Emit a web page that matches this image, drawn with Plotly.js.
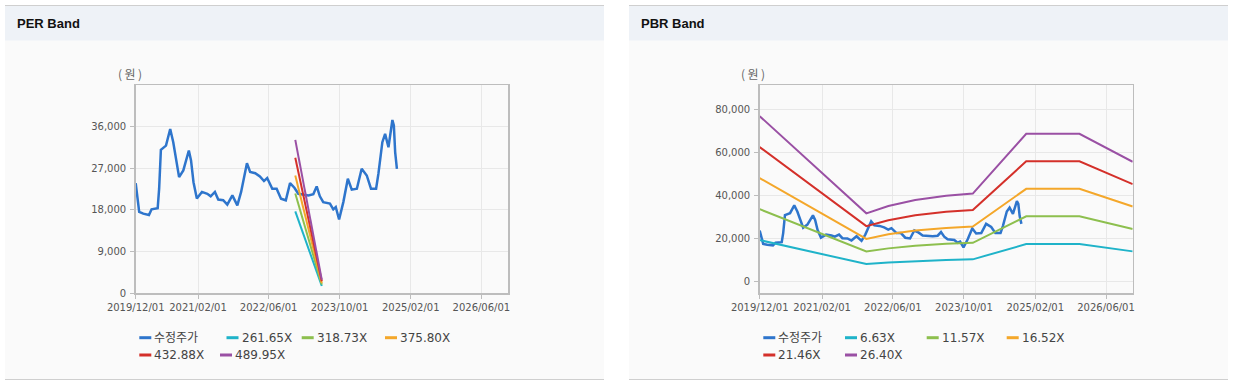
<!DOCTYPE html>
<html>
<head>
<meta charset="utf-8">
<script src="https://cdn.plot.ly/plotly-3.0.1.min.js"></script>
<style>
html,body{margin:0;padding:0;background:#fff;}
#chart{width:1245px;height:382px;}
</style>
</head>
<body>
<div id="chart"></div>
<script>
// ---------------- DATA ----------------
const tickDates = ['2019-12-01','2021-02-01','2022-06-01','2023-10-01','2025-02-01','2026-06-01'];
const tickLabels = ['2019/12/01','2021/02/01','2022/06/01','2023/10/01','2025/02/01','2026/06/01'];

const priceDates = ['2019-12-01','2019-12-25','2020-01-22','2020-03-01','2020-03-19','2020-04-30','2020-05-10','2020-05-22','2020-06-26','2020-07-25','2020-08-15','2020-09-24','2020-10-23','2020-11-30','2020-12-15','2021-01-01','2021-01-24','2021-02-28','2021-04-06','2021-04-29','2021-05-28','2021-06-20','2021-07-24','2021-08-21','2021-09-25','2021-10-29','2021-11-24','2022-01-03','2022-01-25','2022-03-01','2022-04-02','2022-04-30','2022-05-22','2022-06-10','2022-06-26','2022-07-26','2022-08-25','2022-09-27','2022-10-26','2022-11-25','2022-12-22','2023-03-01','2023-04-04','2023-04-27','2023-05-19','2023-06-11','2023-07-27','2023-08-19','2023-09-05','2023-09-28','2023-10-27','2023-11-27','2023-12-24','2024-01-28','2024-03-01','2024-04-05','2024-05-04','2024-06-08','2024-06-24','2024-07-21','2024-08-09','2024-09-01','2024-09-28','2024-10-08','2024-10-17','2024-10-29'];
const priceValues = [23800,17600,17200,16900,18150,18400,22600,31000,31900,35500,32650,25100,26550,30850,28700,24000,20500,21900,21500,20950,21900,20250,20100,19150,21150,19000,21900,28100,26200,25950,25250,24250,24900,23800,22600,22600,20450,20100,23800,22800,21500,21150,21400,23100,20950,19700,19400,18150,18650,15950,19700,24750,22400,22600,26900,25450,22600,22600,25850,32650,34450,31550,37450,36250,30500,26900];

// PER band
const perDates = ['2022-12-01','2023-06-01'];
const perLabels = ['수정주가','261.65X','318.73X','375.80X','432.88X','489.95X'];
const per1 = [17700, 1570];
const per2 = [21570, 1910];
const per3 = [25430, 2250];
const per4 = [29290, 2600];
const per5 = [33150, 2940];
const perTicks = [0, 9000, 18000, 27000, 36000];

// PBR band
const pbrDates = ['2019-12-01','2021-12-01','2022-05-01','2022-11-01','2023-06-01','2023-12-01','2024-12-01','2025-12-01','2026-12-01'];
const pbrLabels = ['수정주가','6.63X','11.57X','16.52X','21.46X','26.40X'];
const pbr1 = [19340, 8200, 8900, 9600, 10100, 10400, 17500, 17500, 14100];
const pbr2 = [33750, 14100, 15500, 16700, 17600, 18100, 30400, 30400, 24500];
const pbr3 = [48190, 19910, 22020, 23770, 25030, 25660, 43200, 43200, 34950];
const pbr4 = [62600, 25860, 28610, 30880, 32510, 33330, 56000, 56000, 45400];
const pbr5 = [77000, 31800, 35200, 38000, 40000, 41000, 68800, 68800, 55800];
const pbrTicks = [0, 20000, 40000, 60000, 80000];

// ---------------- STYLE ----------------
const colors = ['#2e75cc','#1fb3c9','#8dbf4e','#f4a72a','#d4302a','#9a50a4'];
const W = 1245, H = 382;
const px = x => x / W;
const py = y => 1 - y / H;
const tickFont = {family:'DejaVu Sans, Noto Sans CJK KR, sans-serif', size:10, color:'#555'};
const legFont = {family:'DejaVu Sans, Noto Sans CJK KR, sans-serif', size:12, color:'#444'};

function bandTraces(xa, ya, bandDates, bands, labels) {
  const t = [{x: priceDates, y: priceValues, type:'scatter', mode:'lines', name: labels[0],
    xaxis: xa, yaxis: ya, line:{color: colors[0], width:2.5}, hoverinfo:'x+y'}];
  bands.forEach((b, i) => {
    t.push({x: bandDates, y: b, type:'scatter', mode:'lines', name: labels[i+1],
      xaxis: xa, yaxis: ya, line:{color: colors[i+1], width:2}});
  });
  return t;
}

const data = [].concat(
  bandTraces('x','y', perDates, [per1,per2,per3,per4,per5], perLabels),
  bandTraces('x2','y2', pbrDates, [pbr1,pbr2,pbr3,pbr4,pbr5], pbrLabels)
);

function xAxis(d0, d1, anchor) {
  return {domain:[px(d0), px(d1)], anchor: anchor, type:'date',
    range:['2019-12-01','2026-12-01'], tickmode:'array', tickvals: tickDates, ticktext: tickLabels,
    showgrid:true, gridcolor:'#e8e8e8', gridwidth:1, showline:true, linecolor:'#bdbdbd', linewidth:1.5,
    mirror:true, ticks:'outside', ticklen:4, tickcolor:'#bdbdbd', tickfont: tickFont, zeroline:false,
    fixedrange:true};
}
function yAxis(range, ticks, anchor) {
  return {domain:[py(293.3), py(85)], anchor: anchor, range: range, tickmode:'array', tickvals: ticks,
    tickformat:',d', showgrid:true, gridcolor:'#e8e8e8', showline:true, linecolor:'#bdbdbd', linewidth:1.5,
    mirror:true, ticks:'outside', ticklen:4, tickcolor:'#bdbdbd', tickfont: tickFont, zeroline:false,
    ticklabelstandoff:2, fixedrange:true};
}

const shapes = [];
const annotations = [];
function panel(x0, x1, title, titleX) {
  shapes.push({type:'rect', xref:'paper', yref:'paper', x0:px(x0), x1:px(x1), y0:py(379), y1:py(5),
    fillcolor:'#fafafa', line:{width:0}, layer:'below'});
  shapes.push({type:'rect', xref:'paper', yref:'paper', x0:px(x0), x1:px(x1), y0:py(40.5), y1:py(5.5),
    fillcolor:'#eef2f7', line:{width:0}, layer:'below'});
  shapes.push({type:'line', xref:'paper', yref:'paper', x0:px(x0), x1:px(x1), y0:py(5.5), y1:py(5.5),
    line:{color:'#cfcfcf', width:1}, layer:'below'});
  shapes.push({type:'line', xref:'paper', yref:'paper', x0:px(x0), x1:px(x1), y0:py(379.5), y1:py(379.5),
    line:{color:'#cfcfcf', width:1}, layer:'below'});
  annotations.push({xref:'paper', yref:'paper', x:px(titleX), y:py(24), xanchor:'left', yanchor:'middle',
    showarrow:false, text:'<b>'+title+'</b>', font:{family:'Liberation Sans, Arial, sans-serif', size:13, color:'#111'}});
}
panel(5, 604, 'PER Band', 15);
panel(629, 1228, 'PBR Band', 639);

function unitLabel(cx) {
  annotations.push({xref:'paper', yref:'paper', x:px(cx), y:py(73), xanchor:'center', yanchor:'middle',
    showarrow:false, text:'(\u2009원\u2009)', font:{family:'Noto Sans CJK KR, sans-serif', size:12, color:'#666'}});
}
unitLabel(129.5);
unitLabel(753.5);

function legend(labels, pos) {
  labels.forEach((lab, i) => {
    const p = pos[i];
    const y = p[1] === 1 ? 337.7 : 355;
    shapes.push({type:'line', xref:'paper', yref:'paper', x0:px(p[0]), x1:px(p[0]+12), y0:py(y), y1:py(y),
      line:{color: colors[i], width:3}});
    annotations.push({xref:'paper', yref:'paper', x:px(p[0]+13), y:py(y), xanchor:'left', yanchor:'middle',
      showarrow:false, text: lab, font: legFont});
  });
}
legend(perLabels, [[139.3,1],[226.5,1],[301.7,1],[385,1],[139.3,2],[220,2]]);
legend(pbrLabels, [[763.3,1],[845,1],[926.7,1],[1006.7,1],[763.3,2],[845,2]]);

const layout = {
  width: W, height: H, margin:{l:0, r:0, t:0, b:0},
  paper_bgcolor:'#ffffff', plot_bgcolor:'#ffffff', showlegend:false,
  xaxis: xAxis(135.7, 508, 'y'),
  yaxis: yAxis([0, 45000], perTicks, 'x'),
  xaxis2: xAxis(759.7, 1132.7, 'y2'),
  yaxis2: yAxis([-5400, 91500], pbrTicks, 'x2'),
  shapes: shapes, annotations: annotations
};

Plotly.newPlot('chart', data, layout, {displayModeBar:false, staticPlot:true});
</script>
</body>
</html>
